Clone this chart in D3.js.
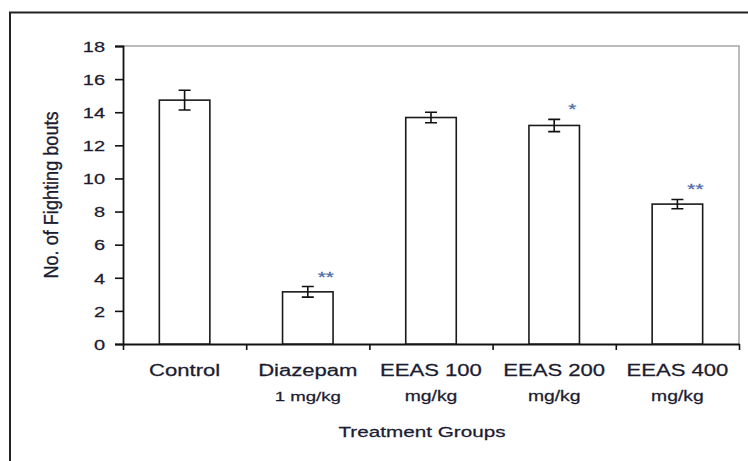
<!DOCTYPE html>
<html><head><meta charset="utf-8">
<script src="https://cdn.jsdelivr.net/npm/d3@7"></script>
<style>html,body{margin:0;padding:0;background:#fff;}svg{display:block;}
text{stroke:#1c1c30;stroke-width:0.25px;}</style>
</head><body>
<svg id="chart" width="748" height="461"></svg>
<script>
const categories = ["Control", "Diazepam", "EEAS 100", "EEAS 200", "EEAS 400"];
const subLabels = ["", "1 mg/kg", "mg/kg", "mg/kg", "mg/kg"];
const means = [14.73, 3.15, 13.68, 13.2, 8.45];
const errors = [0.6, 0.32, 0.32, 0.37, 0.28];
const significance = ["", "**", "", "*", "**"];
const yTicks = [0, 2, 4, 6, 8, 10, 12, 14, 16, 18];
const yTitle = "No. of Fighting bouts";
const xTitle = "Treatment Groups";

(function () {
const svg = d3.select("#chart");
const pL = 123, pR = 739, pT = 46, pB = 344;
const SX = 1.38;
const font = "'Liberation Sans', Arial, sans-serif";
const txtColor = "#1c1c30";

// outer frame
svg.append("rect").attr("x", 10).attr("y", 12.5).attr("width", 800).attr("height", 500)
  .attr("fill", "none").attr("stroke", "#222").attr("stroke-width", 2);

const y = d3.scaleLinear().domain([0, 18]).range([pB, pT]);
const x = d3.scaleBand().domain(categories).range([pL, pR]).padding(0);
const xb = d3.scaleLinear().domain([0, categories.length]).range([pL, pR]);

// plot area border (top & right)
svg.append("path")
  .attr("d", `M${pL},${y(18)}H${pR}V${pB}`)
  .attr("fill", "none").attr("stroke", "#a5a5a5").attr("stroke-width", 1.5);

// y axis
const gy = svg.append("g").attr("transform", `translate(${pL},0)`)
  .call(d3.axisLeft(y).tickValues(yTicks).tickSize(8).tickPadding(10).tickFormat(d3.format("d")));
gy.select(".domain").attr("stroke", "#111").attr("stroke-width", 1.8);
gy.selectAll(".tick line").attr("stroke", "#111").attr("stroke-width", 1.6);
gy.selectAll(".tick text")
  .attr("x", -18 / SX).attr("dy", "0.36em")
  .attr("transform", `scale(${SX},1)`)
  .attr("font-family", font).attr("font-size", 14.5).attr("fill", txtColor);

// x axis
const gx = svg.append("g").attr("transform", `translate(0,${pB})`)
  .call(d3.axisBottom(xb).tickValues(d3.range(categories.length + 1)).tickSize(6).tickSizeOuter(0).tickFormat(""));
gx.select(".domain").attr("stroke", "#111").attr("stroke-width", 1.8);
gx.selectAll(".tick line").attr("stroke", "#111").attr("stroke-width", 1.6);

// bars
const barW = x.bandwidth() * 0.41;
const cx = d => x(d) + x.bandwidth() / 2;
svg.append("g").selectAll("rect").data(categories).join("rect")
  .attr("x", d => cx(d) - barW / 2)
  .attr("y", (d, i) => y(means[i]))
  .attr("width", barW)
  .attr("height", (d, i) => y(0) - y(means[i]))
  .attr("fill", "#fff").attr("stroke", "#1a1a1a").attr("stroke-width", 1.6);

// error bars
const eg = svg.append("g").attr("stroke", "#111").attr("stroke-width", 1.6).attr("fill", "none");
categories.forEach((c, i) => {
  const xc = cx(c), hi = y(means[i] + errors[i]), lo = y(means[i] - errors[i]);
  eg.append("path").attr("d", `M${xc},${hi}V${lo}M${xc - 6},${hi}H${xc + 6}M${xc - 6},${lo}H${xc + 6}`);
});

// significance stars
categories.forEach((c, i) => {
  if (!significance[i]) return;
  svg.append("text")
    .attr("transform", `translate(${cx(c) + 18},${y(means[i] + errors[i]) - 5}) scale(${SX},1)`)
    .attr("text-anchor", "middle")
    .attr("font-family", font).attr("font-size", 15).attr("fill", "#4a6aa8")
    .style("stroke", "#4a6aa8")
    .text(significance[i]);
});

// category labels
categories.forEach((c, i) => {
  svg.append("text")
    .attr("transform", `translate(${cx(c)},${pB + 32}) scale(${SX},1)`)
    .attr("text-anchor", "middle")
    .attr("font-family", font).attr("font-size", 16).attr("fill", txtColor)
    .text(c);
  if (subLabels[i]) {
    svg.append("text")
      .attr("transform", `translate(${cx(c)},${pB + 57}) scale(${SX},1)`)
      .attr("text-anchor", "middle")
      .attr("font-family", font).attr("font-size", i === 1 ? 13.5 : 14).attr("fill", txtColor)
      .text(subLabels[i]);
  }
});

// x title
svg.append("text")
  .attr("transform", `translate(${(pL + pR) / 2 - 9},${pB + 93}) scale(${SX},1)`)
  .attr("text-anchor", "middle")
  .attr("font-family", font).attr("font-size", 15).attr("fill", txtColor)
  .text(xTitle);

// y title
svg.append("text")
  .attr("transform", `translate(${58},${(pT + pB) / 2}) rotate(-90) scale(1.25,1.38)`)
  .attr("text-anchor", "middle")
  .attr("font-family", font).attr("font-size", 14.5).attr("fill", txtColor)
  .text(yTitle);
})();
</script>
</body></html>
